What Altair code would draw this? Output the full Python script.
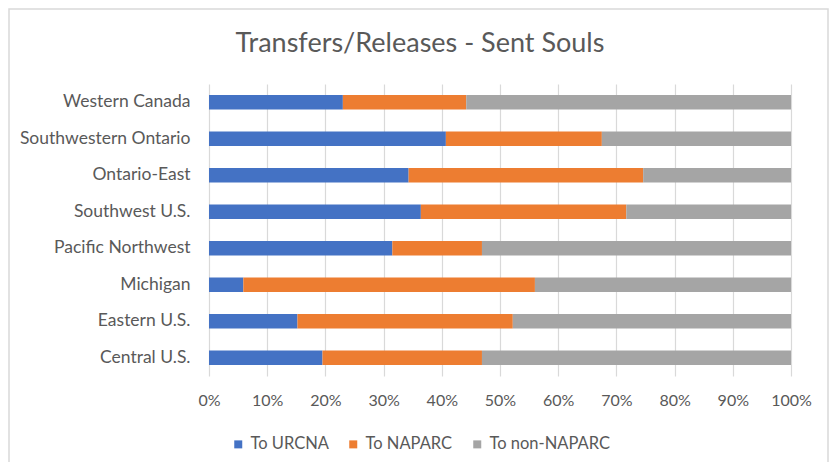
import altair as alt
import pandas as pd

regions = ["Western Canada", "Southwestern Ontario", "Ontario-East", "Southwest U.S.",
           "Pacific Northwest", "Michigan", "Eastern U.S.", "Central U.S."]
to_urcna = [23.0, 40.7, 34.3, 36.4, 31.5, 5.9, 15.2, 19.5]
to_naparc = [21.2, 26.8, 40.3, 35.3, 15.4, 50.1, 37.0, 27.4]
to_non_naparc = [55.8, 32.5, 25.4, 28.3, 53.1, 44.0, 47.8, 53.1]
series = ["To URCNA", "To NAPARC", "To non-NAPARC"]
colors = ["#4472C4", "#ED7D31", "#A5A5A5"]
x_ticks = [0, 0.1, 0.2, 0.3, 0.4, 0.5, 0.6, 0.7, 0.8, 0.9, 1.0]

rows = []
for i, r in enumerate(regions):
    for j, (s, vals) in enumerate(zip(series, [to_urcna, to_naparc, to_non_naparc])):
        rows.append({"region": r, "series": s, "order": j, "value": vals[i] / 100.0})
df = pd.DataFrame(rows)

TXT = "#595959"
FONT = "Lato"

bars = alt.Chart(df).mark_bar().encode(
    x=alt.X("value:Q", stack="zero",
            scale=alt.Scale(domain=[0, 1], nice=False, clamp=True),
            axis=alt.Axis(values=x_ticks, format=".0%", title=None, domain=False, ticks=False,
                          grid=True, gridColor="#d9d9d9", gridWidth=1.2, labelFlush=False,
                          labelPadding=16, labelFontSize=16, labelColor=TXT, labelFont=FONT)),
    y=alt.Y("region:N", sort=regions,
            scale=alt.Scale(paddingInner=0.6, paddingOuter=0.3),
            axis=alt.Axis(title=None, domain=False, ticks=False, grid=False,
                          labelPadding=19, labelFontSize=17.5, labelColor=TXT, labelFont=FONT,
                          labelLimit=300)),
    color=alt.Color("series:N", scale=alt.Scale(domain=series, range=colors),
                    legend=alt.Legend(title=None, orient="none", direction="horizontal",
                                      legendX=21, legendY=352, symbolType="square",
                                      symbolSize=64, symbolStrokeWidth=0, labelFontSize=16.5,
                                      labelColor=TXT, labelFont=FONT, labelOffset=4,
                                      columnPadding=16)),
    order=alt.Order("order:Q"),
)

border = alt.Chart(pd.DataFrame({"k": [0]})).mark_rect(
    fill="white", fillOpacity=0, stroke="#d9d9d9", strokeWidth=1.5
).encode(x=alt.value(-200), x2=alt.value(619), y=alt.value(-75), y2=alt.value(420))

chart = alt.layer(border, bars).properties(
    width=582, height=292,
    autosize=alt.AutoSizeParams(type="none"),
    padding={"left": 201, "top": 76, "right": 38, "bottom": 86},
    title=alt.TitleParams("Transfers/Releases  - Sent Souls", fontSize=27, font=FONT,
                          color=TXT, fontWeight="normal", anchor="middle", dx=-80,
                          offset=34, dy=105, baseline="alphabetic"),
).configure_view(strokeWidth=0)

chart.save("out.html", embed_options={"renderer": "svg", "actions": False})
